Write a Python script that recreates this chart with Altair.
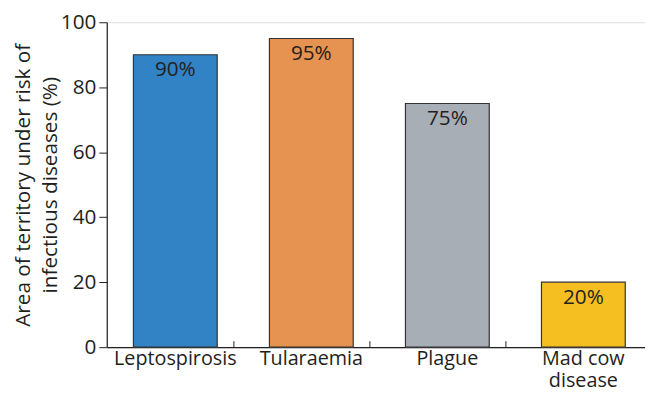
import altair as alt
import pandas as pd

categories = ["Leptospirosis", "Tularaemia", "Plague", "Mad cow disease"]
values = [90, 95, 75, 20]
value_labels = ["90%", "95%", "75%", "20%"]
colors = ["#3183C6", "#E69250", "#A8AEB5", "#F5BF22"]

df = pd.DataFrame({"cat": categories, "val": values, "lab": value_labels})

FONT = "Open Sans"
TXT = "#231f20"
FS = 21

x_enc = alt.X(
    "cat:N",
    sort=categories,
    scale=alt.Scale(paddingInner=0.384, paddingOuter=0.196, range=[0, 552]),
    axis=alt.Axis(
        title=None,
        ticks=False,
        labelAngle=0,
        labelFont=FONT,
        labelFontSize=20,
        labelColor=TXT,
        labelPadding=2,
        labelLineHeight=22,
        domainColor="#231f20",
        domainWidth=1.2,
        labelExpr="datum.value == 'Mad cow disease' ? ['Mad cow', 'disease'] : datum.label",
    ),
)

y_enc = alt.Y(
    "val:Q",
    scale=alt.Scale(domain=[0, 100], nice=False),
    axis=alt.Axis(
        title=["Area of territory under risk of", "infectious diseases (%)"],
        titleFont=FONT,
        titleFontSize=FS,
        titleFontWeight="normal",
        titleColor=TXT,
        titlePadding=0,
        titleLineHeight=27,
        values=list(range(0, 101, 10)),
        labelExpr="datum.value % 20 == 0 ? datum.label : ''",
        labelFont=FONT,
        labelFontSize=FS,
        labelColor=TXT,
        labelPadding=3,
        tickSize=8,
        tickColor="#231f20",
        tickWidth=1,
        domainColor="#231f20",
        domainWidth=1.2,
        grid=False,
    ),
)

bars = alt.Chart(df).mark_bar(stroke="#333333", strokeWidth=1.2).encode(
    x=x_enc,
    y=y_enc,
    color=alt.Color("cat:N", scale=alt.Scale(domain=categories, range=colors), legend=None),
)

texts = alt.Chart(df).mark_text(
    font=FONT, fontSize=FS, color=TXT, baseline="top", dy=5
).encode(x=alt.X("cat:N", sort=categories), y="val:Q", text="lab:N")

ticks = alt.Chart(df).transform_filter(
    alt.datum.cat != categories[0]
).mark_rule(color="#231f20", strokeWidth=1, xOffset=-36).encode(
    x=alt.X("cat:N", sort=categories, bandPosition=0),
    y=alt.value(329),
    y2=alt.value(323),
)

chart = alt.layer(bars, texts, ticks).properties(
    width=545,
    height=329,
    autosize="none",
    padding={"left": 100, "top": 12, "right": 0, "bottom": 49},
).configure_view(stroke=None).configure(background="white")

chart.save("out.html", embed_options={"renderer": "svg", "actions": False})
